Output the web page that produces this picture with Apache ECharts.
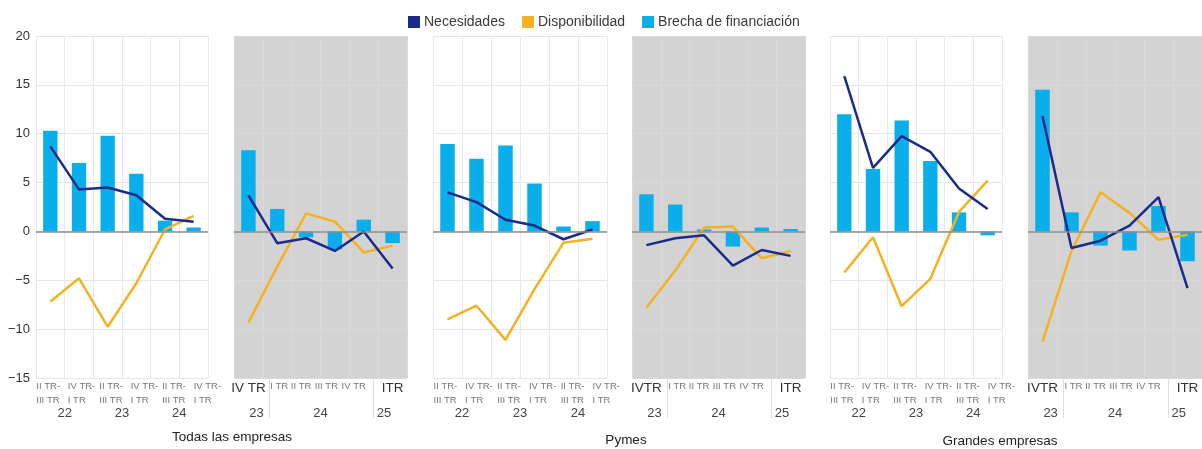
<!DOCTYPE html>
<html><head><meta charset="utf-8">
<script src="https://cdn.jsdelivr.net/npm/echarts@6/dist/echarts.min.js"></script>
<style>html,body{margin:0;padding:0;background:#fff}#c{width:1202px;height:449px}</style>
</head><body><div id="c"></div>
<script>
// ---------- DATA ----------
const histCategories = ['II TR-\nIII TR','IV TR-\nI TR','II TR-\nIII TR','IV TR-\nI TR','II TR-\nIII TR','IV TR-\nI TR'];
const histYears = ['22','23','24'];
const recentCategoriesTodas = ['IV TR','I TR','II TR','III TR','IV TR','ITR'];
const recentCategoriesOther = ['IVTR','I TR','II TR','III TR','IV TR','ITR'];
const recentYears = ['23','24','25'];
const groupTitles = ['Todas las empresas','Pymes','Grandes empresas'];
const seriesNames = ['Necesidades','Disponibilidad','Brecha de financiación'];

const todasHistNec    = [8.7, 4.3, 4.5, 3.7, 1.3, 1.0];
const todasHistDisp   = [-7.2, -4.8, -9.75, -5.3, 0.2, 1.6];
const todasHistGap    = [10.3, 7.0, 9.8, 5.9, 1.1, 0.4];
const todasRecNec     = [3.7, -1.2, -0.7, -2.0, 0.0, -3.8];
const todasRecDisp    = [-9.3, -3.6, 1.85, 1.0, -2.15, -1.45];
const todasRecGap     = [8.3, 2.3, -0.6, -1.85, 1.2, -1.2];

const pymesHistNec    = [4.0, 3.0, 1.2, 0.6, -0.8, 0.2];
const pymesHistDisp   = [-9.0, -7.6, -11.1, -5.9, -1.15, -0.75];
const pymesHistGap    = [8.95, 7.45, 8.8, 4.9, 0.5, 1.05];
const pymesRecNec     = [-1.4, -0.7, -0.4, -3.5, -1.9, -2.5];
const pymesRecDisp    = [-7.8, -4.0, 0.4, 0.5, -2.75, -2.0];
const pymesRecGap     = [3.8, 2.75, 0.2, -1.55, 0.4, 0.25];

const grandesHistNec  = [15.9, 6.5, 9.75, 8.15, 4.4, 2.3];
const grandesHistDisp = [-4.2, -0.6, -7.65, -4.85, 2.0, 5.2];
const grandesHistGap  = [12.0, 6.4, 11.35, 7.2, 1.95, -0.4];
const grandesRecNec   = [11.8, -1.7, -0.95, 0.6, 3.5, -5.8];
const grandesRecDisp  = [-11.3, -2.0, 4.0, 1.9, -0.85, -0.35];
const grandesRecGap   = [14.5, 1.95, -1.45, -1.95, 2.6, -3.05];

// ---------- LAYOUT ----------
const FONT = "'Liberation Sans', Arial, Helvetica, sans-serif";
const C_NEC = '#1b2b8c', C_DISP = '#f4b223', C_GAP = '#0aaeea', C_PANEL = '#d3d3d3';
const gridTop = 36, gridHeight = 342;
const recentYearPos = [0.78, 3, 5.2];
const recentSepPos = [1.22, 4.83];
const recentLabelPad = [[0,0], [4,0], [0,10], [0,17], [0,20], [0,0]];  // [left,right] label nudges
const histLabelShift = 2.8;  // px per category index, label row drifts right as in the original

const panels = [
  {left: 36,   width: 172, kind: 'hist',   cats: histCategories,        nec: todasHistNec,   disp: todasHistDisp,   gap: todasHistGap},
  {left: 234,  width: 173, kind: 'recent', cats: recentCategoriesTodas, nec: todasRecNec,    disp: todasRecDisp,    gap: todasRecGap},
  {left: 433,  width: 174, kind: 'hist',   cats: histCategories,        nec: pymesHistNec,   disp: pymesHistDisp,   gap: pymesHistGap},
  {left: 632,  width: 173, kind: 'recent', cats: recentCategoriesOther, nec: pymesRecNec,    disp: pymesRecDisp,    gap: pymesRecGap},
  {left: 830,  width: 172, kind: 'hist',   cats: histCategories,        nec: grandesHistNec, disp: grandesHistDisp, gap: grandesHistGap},
  {left: 1028, width: 175, kind: 'recent', cats: recentCategoriesOther, nec: grandesRecNec,  disp: grandesRecDisp,  gap: grandesRecGap}
];
const titlePos = [{x: 232, y: 437}, {x: 626, y: 440}, {x: 1000, y: 441}];

const recentRich = {b: {fontSize: 13.5, color: '#333', lineHeight: 18, fontFamily: FONT}};
recentLabelPad.forEach((pd, k) => {
  recentRich['s' + k] = {fontSize: 9.5, color: '#777', lineHeight: 14, fontFamily: FONT, padding: [0, pd[1], 0, pd[0]]};
});
const histRich = {h: {width: 28, align: 'left', fontSize: 9.5, color: '#777', lineHeight: 13.5, fontFamily: FONT}};
for (let k = 1; k < 6; k++) {
  histRich['p' + k] = {width: 2 * histLabelShift * k, align: 'left', fontSize: 9.5, lineHeight: 13.5};
}

const grids = [], xAxes = [], yAxes = [], series = [];
panels.forEach((p, i) => {
  const grey = p.kind === 'recent';
  grids.push({
    left: p.left, top: gridTop, width: p.width, height: gridHeight,
    show: grey, backgroundColor: grey ? C_PANEL : 'transparent', borderWidth: 0
  });
  // main category axis
  xAxes.push({
    type: 'category', gridIndex: i, data: p.cats, position: 'bottom',
    axisLine: {show: false},
    axisTick: grey ? {show: false} : {show: true, interval: 0, length: 42, lineStyle: {color: '#ececec'}},
    splitLine: {show: true, interval: 0, lineStyle: {color: grey ? '#d9d9d9' : '#e9e9e9', width: 1}},
    axisLabel: grey ? {
      interval: 0, margin: 1, verticalAlign: 'top',
      formatter: (v, idx) => (idx === 0 || idx === 5) ? '{b|' + v + '}' : '{s' + idx + '|' + v + '}',
      rich: recentRich
    } : {
      interval: 0, margin: 2, verticalAlign: 'top', lineHeight: 13.5,
      formatter: (v, idx) => v.split('\n').map(s => (idx > 0 ? '{p' + idx + '| }' : '') + '{h|' + s + '}').join('\n'),
      rich: histRich
    }
  });
  // year axis
  if (grey) {
    xAxes.push({
      type: 'value', gridIndex: i, min: 0, max: 6, position: 'bottom',
      axisLine: {show: false}, splitLine: {show: false},
      axisTick: {show: true, customValues: recentSepPos, length: 40, lineStyle: {color: '#dedede'}},
      axisLabel: {
        customValues: recentYearPos, margin: 28, verticalAlign: 'top', lineHeight: 15,
        fontSize: 13, color: '#444', fontFamily: FONT,
        formatter: v => recentYears[recentYearPos.indexOf(v)]
      }
    });
  } else {
    xAxes.push({
      type: 'category', gridIndex: i, data: histYears, position: 'bottom',
      axisLine: {show: false}, axisTick: {show: false}, splitLine: {show: false},
      axisLabel: {margin: 28, verticalAlign: 'top', lineHeight: 15, fontSize: 13, color: '#444', fontFamily: FONT}
    });
  }
  yAxes.push({
    type: 'value', gridIndex: i, min: -15, max: 20, interval: 5,
    axisLine: {show: false}, axisTick: {show: false},
    splitLine: {show: true, lineStyle: {color: grey ? '#d9d9d9' : '#e6e6e6', width: 1}},
    axisLabel: {
      show: i === 0, margin: 6, fontSize: 13, color: '#333', fontFamily: FONT,
      formatter: v => String(v).replace('-', '\u2212')
    }
  });
  series.push({
    name: seriesNames[2], type: 'bar', xAxisIndex: 2 * i, yAxisIndex: i,
    data: p.gap, barWidth: '50%', color: C_GAP, itemStyle: {color: C_GAP},
    markLine: {
      silent: true, symbol: ['none', 'none'], label: {show: false},
      lineStyle: {color: '#8c8c8c', width: 1.5, type: 'solid'},
      data: [{yAxis: 0}]
    }, z: 2
  });
  series.push({
    name: seriesNames[0], type: 'line', xAxisIndex: 2 * i, yAxisIndex: i,
    data: p.nec, showSymbol: false, symbol: 'none', color: C_NEC,
    lineStyle: {color: C_NEC, width: 2.5}, z: 4
  });
  series.push({
    name: seriesNames[1], type: 'line', xAxisIndex: 2 * i, yAxisIndex: i,
    data: p.disp, showSymbol: false, symbol: 'none', color: C_DISP,
    lineStyle: {color: C_DISP, width: 2.5}, z: 3
  });
});

const graphics = groupTitles.map((t, k) => ({
  type: 'text', x: titlePos[k].x, y: titlePos[k].y,
  style: {text: t, fill: '#222', font: '13.5px ' + FONT, textAlign: 'center', textVerticalAlign: 'middle'}
}));

const chart = echarts.init(document.getElementById('c'), null, {renderer: 'canvas'});
chart.setOption({
  animation: false,
  backgroundColor: '#fff',
  legend: {
    left: 403, top: 10, itemWidth: 12, itemHeight: 12, itemGap: 17,
    textStyle: {fontSize: 14, color: '#3a3a3a', fontFamily: FONT, padding: [0, 0, 0, -1]},
    data: seriesNames.map(n => ({name: n, icon: 'rect'}))
  },
  grid: grids, xAxis: xAxes, yAxis: yAxes, series: series, graphic: graphics
});
</script></body></html>
